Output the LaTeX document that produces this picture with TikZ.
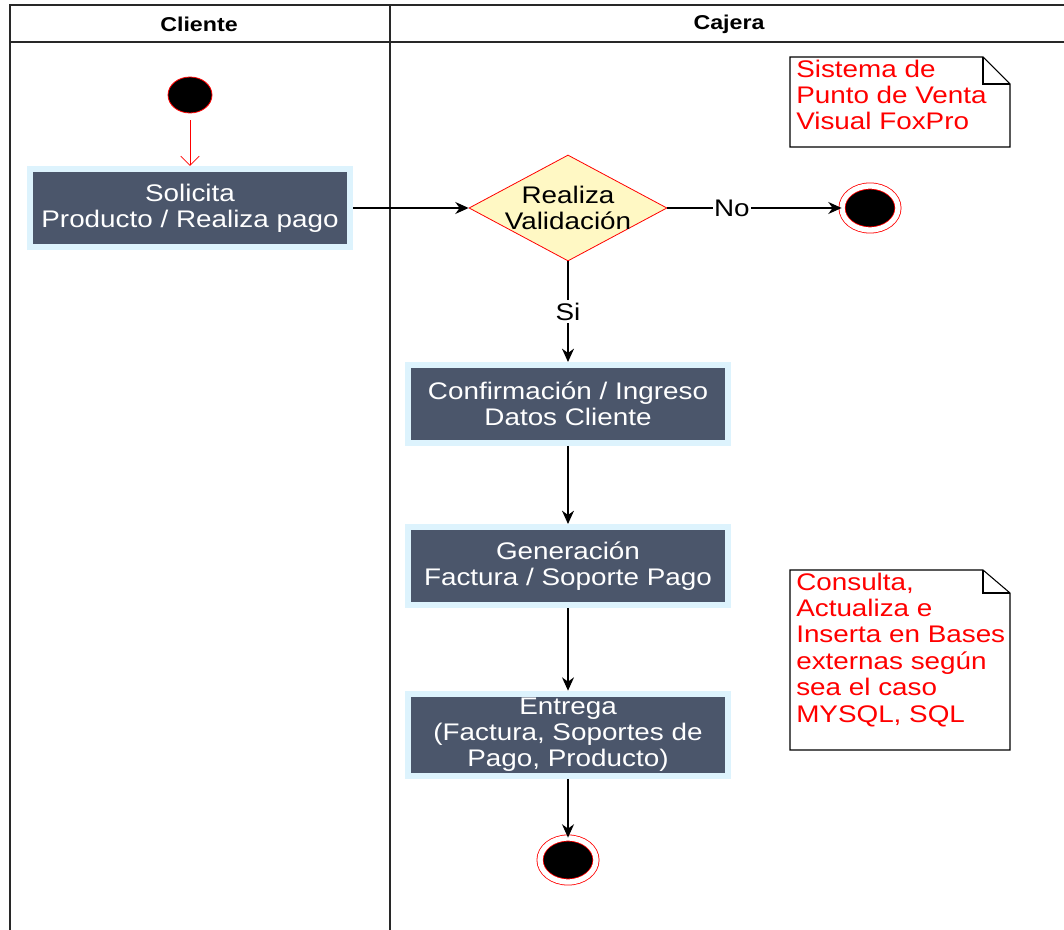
\documentclass[tikz,border=0pt]{standalone}
\usepackage{fontspec}
\setmainfont{Liberation Sans}[FakeStretch=1.16]
\usetikzlibrary{shapes.geometric,arrows.meta}
\definecolor{actfill}{RGB}{75,86,107}
\definecolor{actedge}{RGB}{221,243,253}
\definecolor{decfill}{RGB}{255,248,196}
\definecolor{lane}{RGB}{40,40,40}

\begin{document}
\begin{tikzpicture}
[x=0.75pt,y=-0.75pt,
 every node/.style={font=\fontsize{18}{19.8}\selectfont},
 actividad/.style={rectangle,fill=actfill,draw=actedge,line width=4.5pt,minimum width=240pt,minimum height=58.5pt,text=white,align=center,inner sep=0pt},
 decision/.style={diamond,fill=decfill,draw=red,line width=0.6pt,shape aspect=1.87,minimum width=148.5pt,minimum height=79.5pt,inner xsep=-9pt,inner ysep=0pt,align=center},
 inicio/.style={ellipse,fill=black,draw=red,line width=0.6pt,minimum width=33pt,minimum height=27pt,inner sep=0pt},
 fin/.style={ellipse,fill=black,draw=red,line width=0.6pt,double=white,double distance=4pt,minimum width=42pt,minimum height=33pt,inner sep=0pt},
 flujo/.style={-{Stealth[length=10pt,width=9pt]},line width=0.9pt},
 nota/.style={text=red,align=left,anchor=north west,inner sep=0pt},
 carril/.style={draw=lane,line width=1.5pt},
 titulo/.style={font=\bfseries\fontsize{15}{17}\selectfont}]
\useasboundingbox (0,0) rectangle (1064,930);
% carriles
\draw[carril] (10,930) -- (10,5) -- (1064,5);
\draw[carril] (10,42) -- (1064,42);
\draw[carril] (390,5) -- (390,930);
\node[titulo] (cliente) at (199,24) {Cliente};
\node[titulo] (cajera) at (729,24) {Cajera};
% actividades
\node[inicio] (ini) at (190,95) {};
\node[actividad] (solicita) at (190,208) {Solicita\\Producto / Realiza pago};
\node[decision] (valida) at (568,208) {Realiza\\Validación};
\node[fin] (finNo) at (870,208) {};
\node[actividad] (confirma) at (568,404) {Confirmación / Ingreso\\Datos Cliente};
\node[actividad] (genera) at (568,566) {Generación\\Factura / Soporte Pago};
\node[actividad,minimum height=62pt,font=\fontsize{18}{19.4}\selectfont] (entrega) at (568,735) {Entrega\\(Factura, Soportes de\\Pago, Producto)};
\node[fin] (finSi) at (568,860) {};
% notas
\draw[line width=0.8pt] (790,57) -- (983,57) -- (1010,84) -- (1010,147) -- (790,147) -- cycle;
\draw[line width=0.8pt] (983,57) -- (983,84) -- (1010,84);
\node[nota] (notaA) at (796,59.5) {Sistema de\\Punto de Venta\\Visual FoxPro};
\draw[line width=0.8pt] (790,570) -- (983,570) -- (1010,593) -- (1010,750) -- (790,750) -- cycle;
\draw[line width=0.8pt] (983,570) -- (983,593) -- (1010,593);
\node[nota] (notaB) at (796,572.5) {Consulta,\\Actualiza e\\Inserta en Bases\\externas según\\sea el caso\\MYSQL, SQL};
% flujos
\draw[red,line width=0.6pt,-{Straight Barb[length=7pt,width=14pt]},shorten <=5pt] (ini) -- (solicita);
\draw[flujo] (solicita) -- (valida);
\draw[flujo] (valida) -- node[fill=white,inner sep=1pt,pos=0.37] {No} (finNo);
\draw[flujo] (valida) -- node[fill=white,inner sep=2pt] {Si} (confirma);
\draw[flujo] (confirma) -- (genera);
\draw[flujo] (genera) -- (entrega);
\draw[flujo] (entrega) -- (finSi);
\end{tikzpicture}
\end{document}
